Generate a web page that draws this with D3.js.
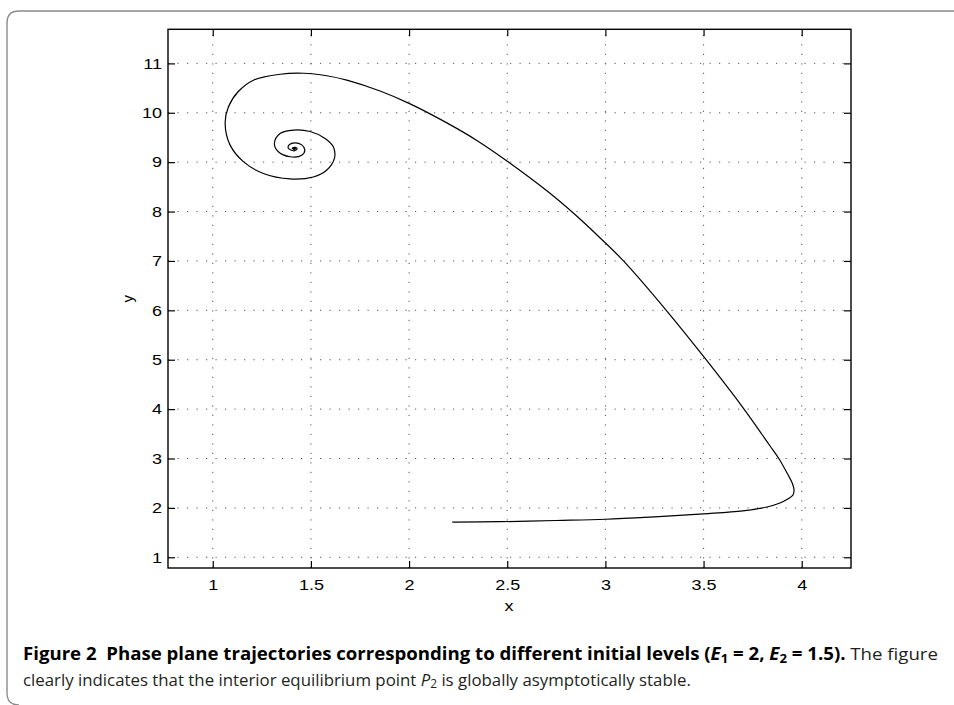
<!DOCTYPE html>
<html>
<head>
<meta charset="utf-8">
<script src="https://cdn.jsdelivr.net/npm/d3@7"></script>
<style>
	body { margin: 0; background: #fff; }
</style>
</head>
<body>
<svg id="chart" width="954" height="705"></svg>
<script>

// axis ticks
var x_ticks = [1, 1.5, 2, 2.5, 3, 3.5, 4]
var y_ticks = [1, 2, 3, 4, 5, 6, 7, 8, 9, 10, 11]
var x_tick_labels = ["1", "1.5", "2", "2.5", "3", "3.5", "4"]
var y_tick_labels = ["1", "2", "3", "4", "5", "6", "7", "8", "9", "10", "11"]

// trajectory (start at lower left, ends in the spiral)
var traj_x = [2.22, 2.46, 2.75, 3.0, 3.25, 3.5, 3.7, 3.822, 3.889, 3.929, 3.955, 3.961, 3.952, 3.928, 3.885, 3.839, 3.798, 3.707,
	3.513, 3.31, 3.092, 2.98, 2.855, 2.705, 2.5, 2.345, 2.19, 2.0, 1.852, 1.683, 1.581, 1.462, 1.343, 1.207,
	1.13, 1.08, 1.063, 1.088, 1.156, 1.258, 1.394, 1.512, 1.581, 1.62, 1.614, 1.572, 1.496, 1.411,
	1.343, 1.314, 1.334, 1.394, 1.453, 1.469, 1.453, 1.419, 1.389, 1.385, 1.414, 1.43, 1.42, 1.405, 1.412, 1.42, 1.416]
var traj_y = [1.71, 1.72, 1.745, 1.77, 1.82, 1.88, 1.94, 2.018, 2.10, 2.18, 2.26, 2.36, 2.50, 2.686, 2.99, 3.253, 3.486, 3.996,
	5.0, 6.0, 7.0, 7.44, 7.905, 8.41, 9.02, 9.44, 9.80, 10.19, 10.44, 10.66, 10.75, 10.80, 10.78, 10.66,
	10.43, 10.12, 9.79, 9.35, 9.01, 8.77, 8.66, 8.70, 8.84, 9.08, 9.31, 9.48, 9.62, 9.65,
	9.58, 9.38, 9.21, 9.11, 9.14, 9.25, 9.35, 9.39, 9.35, 9.28, 9.23, 9.27, 9.30, 9.285, 9.265, 9.278, 9.28]

var label_font = "'Liberation Sans', Arial, Helvetica, sans-serif"
var caption_font = "'Open Sans', 'Noto Sans', sans-serif"

var svg = d3.select("#chart")

// the rounded figure frame
svg.append("path")
	.attr("d", "M954,11 H19 Q7,11 7,23 V693 Q7,705 19,705")
	.attr("fill", "none")
	.attr("stroke", "#8a8a8a")
	.attr("stroke-width", 1.4)

var plot = {left: 168, right: 851, top: 29.3, bottom: 568}

var x = d3.scaleLinear().domain([0.772, 4.251]).range([plot.left, plot.right])
var y = d3.scaleLinear().domain([0.783, 11.69]).range([plot.bottom, plot.top])

var g = svg.append("g")

// dotted grid
g.selectAll(".grid_x").data(x_ticks).enter()
	.append("line")
	.attr("x1", function(d) {return x(d)})
	.attr("x2", function(d) {return x(d)})
	.attr("y1", plot.bottom)
	.attr("y2", plot.top)
	.attr("stroke", "#555")
	.attr("stroke-width", 1)
	.attr("stroke-dasharray", "1.2,8.3")

g.selectAll(".grid_y").data(y_ticks).enter()
	.append("line")
	.attr("y1", function(d) {return y(d)})
	.attr("y2", function(d) {return y(d)})
	.attr("x1", plot.left)
	.attr("x2", plot.right)
	.attr("stroke", "#555")
	.attr("stroke-width", 1)
	.attr("stroke-dasharray", "1.2,8.3")

// axes with inner ticks on all four sides
var tick_len = 7
var bottom_axis = d3.axisBottom(x).tickValues(x_ticks).tickSizeInner(-tick_len).tickSizeOuter(0)
	.tickFormat(function(d, i) {return x_tick_labels[i]}).tickPadding(11)
var top_axis = d3.axisTop(x).tickValues(x_ticks).tickSizeInner(-tick_len).tickSizeOuter(0).tickFormat("")
var left_axis = d3.axisLeft(y).tickValues(y_ticks).tickSizeInner(-tick_len).tickSizeOuter(0)
	.tickFormat(function(d, i) {return y_tick_labels[i]}).tickPadding(5)
var right_axis = d3.axisRight(y).tickValues(y_ticks).tickSizeInner(-tick_len).tickSizeOuter(0).tickFormat("")

// the original labels are a little wide, as if the figure was stretched sideways
var stretch = 1.2

function style_axis(sel) {
	sel.select(".domain").remove()
	sel.attr("font-size", null).attr("font-family", null)
	sel.selectAll(".tick line").attr("stroke", "#000").attr("stroke-width", 1.2)
	sel.selectAll(".tick text")
		.style("font-family", label_font)
		.style("font-size", "15px")
		.attr("fill", "#000")
		.attr("transform", "scale(" + stretch + ",1)")
}

g.append("g").attr("transform", "translate(0," + plot.bottom + ")").call(bottom_axis).call(style_axis)
g.append("g").attr("transform", "translate(0," + plot.top + ")").call(top_axis).call(style_axis)
g.append("g").attr("transform", "translate(" + plot.left + ",0)").call(left_axis).call(style_axis)
g.append("g").attr("transform", "translate(" + plot.right + ",0)").call(right_axis).call(style_axis)

// box
g.append("rect")
	.attr("x", plot.left)
	.attr("y", plot.top)
	.attr("width", plot.right - plot.left)
	.attr("height", plot.bottom - plot.top)
	.attr("fill", "none")
	.attr("stroke", "#000")
	.attr("stroke-width", 1.4)

// trajectory
var line = d3.line()
	.x(function(d) {return x(d[0])})
	.y(function(d) {return y(d[1])})
	.curve(d3.curveCatmullRom.alpha(0.5))

g.append("path")
	.datum(d3.zip(traj_x, traj_y))
	.attr("d", line)
	.attr("fill", "none")
	.attr("stroke", "#000")
	.attr("stroke-width", 1.2)

// equilibrium blob at the centre of the spiral
g.append("circle")
	.attr("cx", x(traj_x[traj_x.length - 1]))
	.attr("cy", y(traj_y[traj_y.length - 1]))
	.attr("r", 1.6)
	.attr("fill", "#000")

// axis labels
g.append("text")
	.style("font-family", label_font)
	.style("font-size", "15px")
	.attr("transform", "translate(509,611) scale(" + stretch + ",1)")
	.attr("text-anchor", "middle")
	.text("x")

g.append("text")
	.style("font-family", label_font)
	.style("font-size", "15px")
	.attr("transform", "translate(133," + (plot.top + plot.bottom) / 2 + ") rotate(-90)")
	.attr("text-anchor", "middle")
	.text("y")

// caption: set in a normal font, then squeezed sideways like the condensed original
function fit_width(text_sel, left, baseline, width) {
	var natural = text_sel.node().getComputedTextLength()
	text_sel.attr("transform", "translate(" + left + "," + baseline + ") scale(" + (width / natural) + ",1)")
}

var cap1 = svg.append("text")
	.style("font-family", caption_font)
	.style("font-size", "17px")
	.attr("fill", "#231f20")

cap1.append("tspan").attr("font-weight", "bold").attr("fill", "#000")
	.text("Figure 2\u00a0\u00a0Phase plane trajectories corresponding to different initial levels (")
cap1.append("tspan").attr("font-weight", "bold").attr("font-style", "italic").attr("fill", "#000").text("E")
cap1.append("tspan").attr("font-weight", "bold").attr("fill", "#000").style("font-size", "12px").attr("baseline-shift", "-20%").text("1")
cap1.append("tspan").attr("font-weight", "bold").attr("fill", "#000").text(" = 2, ")
cap1.append("tspan").attr("font-weight", "bold").attr("font-style", "italic").attr("fill", "#000").text("E")
cap1.append("tspan").attr("font-weight", "bold").attr("fill", "#000").style("font-size", "12px").attr("baseline-shift", "-20%").text("2")
cap1.append("tspan").attr("font-weight", "bold").attr("fill", "#000").text(" = 1.5).")
cap1.append("tspan").text(" The figure")
fit_width(cap1, 23, 660, 915)

var cap2 = svg.append("text")
	.style("font-family", caption_font)
	.style("font-size", "17px")
	.attr("fill", "#231f20")

cap2.append("tspan").text("clearly indicates that the interior equilibrium point ")
cap2.append("tspan").attr("font-style", "italic").text("P")
cap2.append("tspan").style("font-size", "12px").attr("baseline-shift", "-20%").text("2")
cap2.append("tspan").text(" is globally asymptotically stable.")
fit_width(cap2, 23, 686, 668)

</script>
</body>
</html>
